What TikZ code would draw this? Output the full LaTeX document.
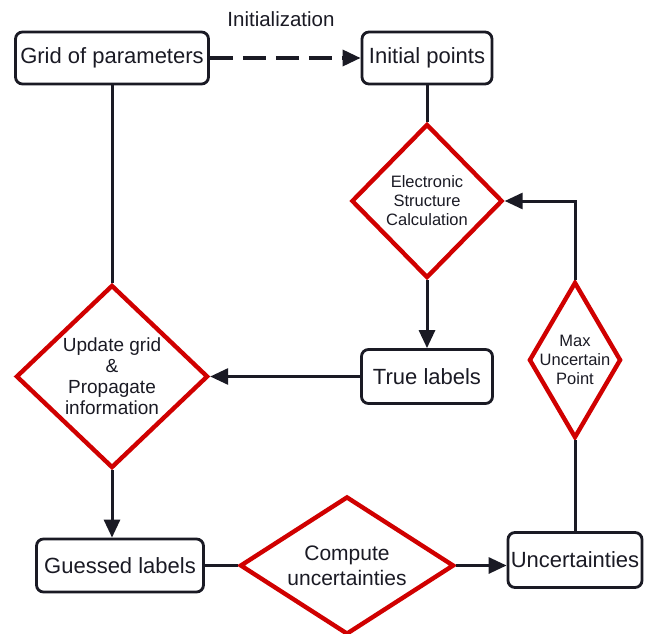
\documentclass[tikz,border=0pt]{standalone}
\usepackage{fontspec}
\setmainfont{Liberation Sans}
\usetikzlibrary{shapes.geometric,arrows.meta}
\definecolor{FlowRed}{RGB}{208,0,0}
\definecolor{FlowInk}{RGB}{26,26,36}

\begin{document}
\begin{tikzpicture}[x=1pt,y=-1pt,
	box/.style={draw=FlowInk,line width=2.8pt,rounded corners=7pt,inner sep=2pt,text=FlowInk,font=\fontsize{22}{26}\selectfont},
	decision/.style={shape=diamond,draw=FlowRed,line width=4.4pt,inner sep=0pt,align=center,text=FlowInk},
	flow/.style={draw=FlowInk,line width=3pt},
	>={Triangle[length=18pt,width=16pt]}]
	\useasboundingbox (0,0) rectangle (651,634);% keeps the page size
	
	% boxes
	\node[box,minimum width=193pt,minimum height=52pt] (GridParams) at (112,58) {Grid of parameters};
	\node[box,minimum width=130pt,minimum height=52pt] (InitPoints) at (427,58) {Initial points};
	\node[box,minimum width=131pt,minimum height=54pt] (TrueLabels) at (427,376.5) {True labels};
	\node[box,minimum width=167pt,minimum height=53pt] (GuessLabels) at (120,565.5) {Guessed labels};
	\node[box,minimum width=134pt,minimum height=55pt] (Uncert) at (575,560) {Uncertainties};
	
	% diamonds
	\node[decision,aspect=0.98,minimum width=151pt,minimum height=154pt,font=\fontsize{16.5}{19}\selectfont] (ESCalc) at (427,201) {Electronic\\Structure\\Calculation};
	\node[decision,aspect=1.05,minimum width=192pt,minimum height=183pt,font=\fontsize{19}{21}\selectfont] (UpdateGrid) at (112,376.5) {Update grid\\\&\\Propagate\\information};
	\node[decision,aspect=1.55,minimum width=214pt,minimum height=138pt,font=\fontsize{21}{25}\selectfont] (CompUncert) at (347,565.5) {Compute\\uncertainties};
	\node[decision,aspect=0.59,inner sep=-6pt,minimum width=92pt,minimum height=156pt,font=\fontsize{16.5}{19}\selectfont] (MaxPoint) at (575,360) {Max\\Uncertain\\Point};
	
	\node[text=FlowInk,font=\fontsize{20.5}{24}\selectfont] (InitLabel) at (281,19) {Initialization};
	
	% connectors
	\draw[flow,->,line width=3.4pt,dash pattern=on 23pt off 10pt] (GridParams.east) -- (InitPoints.west);
	\draw[flow] (GridParams.south) -- (UpdateGrid.north);
	\draw[flow] (InitPoints.south) -- (ESCalc.north);
	\draw[flow,->] (ESCalc.south) -- (TrueLabels.north);
	\draw[flow,->] (TrueLabels.west) -- (UpdateGrid.east);
	\draw[flow,->] (UpdateGrid.south) -- (UpdateGrid.south |- GuessLabels.north);
	\draw[flow] (GuessLabels.east) -- (CompUncert.west);
	\draw[flow,->] (CompUncert.east) -- (CompUncert.east -| Uncert.west);
	\draw[flow] (Uncert.north) -- (MaxPoint.south);
	\draw[flow,->] (MaxPoint.north) |- (ESCalc.east);
\end{tikzpicture}
\end{document}
